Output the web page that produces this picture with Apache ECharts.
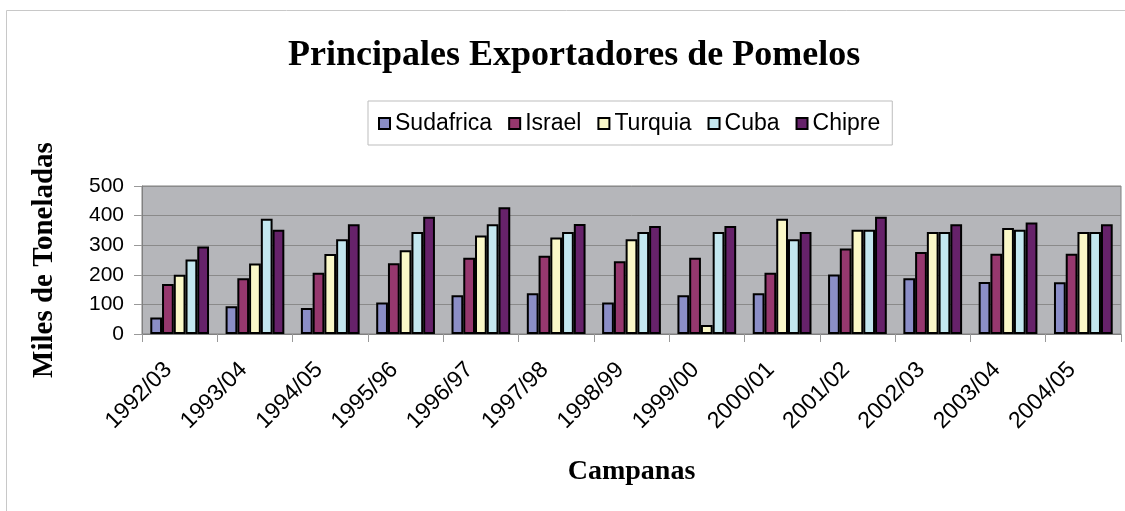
<!DOCTYPE html>
<html>
<head>
<meta charset="utf-8">
<script src="https://cdn.jsdelivr.net/npm/echarts@6/dist/echarts.min.js"></script>
<style>
html,body{margin:0;padding:0;background:#fff;}
#chart{width:1125px;height:511px;}
</style>
</head>
<body>
<div id="chart"></div>
<script>
const categories = ['1992/03','1993/04','1994/05','1995/96','1996/97','1997/98','1998/99','1999/00','2000/01','2001/02','2002/03','2003/04','2004/05'];
const sudafrica = [56, 94, 88, 106, 131, 138, 106, 131, 138, 201, 188, 176, 175];
const israel    = [169, 188, 207, 239, 258, 264, 246, 258, 207, 289, 277, 271, 271];
const turquia   = [200, 238, 270, 283, 333, 326, 320, 30, 389, 352, 345, 358, 345];
const cuba      = [252, 389, 320, 345, 371, 345, 345, 345, 320, 352, 345, 352, 345];
const chipre    = [296, 352, 371, 396, 428, 372, 365, 365, 345, 396, 371, 377, 371];
const yTicks = [0, 100, 200, 300, 400, 500];

const seriesDefs = [
  {name:'Sudafrica', data:sudafrica, color:'#8b8ec7'},
  {name:'Israel', data:israel, color:'#96386e'},
  {name:'Turquia', data:turquia, color:'#faf8c8'},
  {name:'Cuba', data:cuba, color:'#c3e7ef'},
  {name:'Chipre', data:chipre, color:'#66226a'}
];

const chart = echarts.init(document.getElementById('chart'), null, {renderer:'canvas'});
const option = {
  animation:false,
  backgroundColor:'#ffffff',
  graphic:[{
    type:'rect', silent:true, z:-10,
    shape:{x:6.5, y:10.5, width:1300, height:700},
    style:{fill:'none', stroke:'#c8c8c8', lineWidth:1}
  }],
  title:{
    text:'Principales Exportadores de Pomelos',
    left:288, top:38,
    padding:0,
    textStyle:{fontFamily:'Liberation Serif', fontWeight:'bold', fontSize:36, color:'#000'}
  },
  legend:{
    left:368, top:101,
    padding:[11,12,10,10],
    itemWidth:11, itemHeight:11, itemGap:16,
    borderColor:'#bdbdbd', borderWidth:1,
    icon:'rect',
    textStyle:{fontFamily:'Liberation Sans', fontSize:23, color:'#000'},
    data:seriesDefs.map(s=>s.name)
  },
  grid:{
    left:142, right:4, top:186, bottom:177,
    show:true, backgroundColor:'#b5b6ba', borderColor:'#808080', borderWidth:1
  },
  xAxis:{
    type:'category', data:categories,
    name:'Campanas', nameLocation:'middle', nameGap:124,
    nameTextStyle:{fontFamily:'Liberation Serif', fontWeight:'bold', fontSize:28, color:'#000'},
    axisLine:{lineStyle:{color:'#808080', width:1}},
    axisTick:{show:true, alignWithLabel:false, length:8, lineStyle:{color:'#999'}},
    axisLabel:{rotate:45, margin:21, padding:[0,16,0,0], fontFamily:'Liberation Sans', fontSize:23, color:'#000', interval:0}
  },
  yAxis:{
    type:'value', min:yTicks[0], max:yTicks[yTicks.length-1], interval:100,
    name:'Miles de Toneladas', nameLocation:'middle', nameGap:83,
    nameTextStyle:{fontFamily:'Liberation Serif', fontWeight:'bold', fontSize:29, color:'#000'},
    axisLine:{show:true, lineStyle:{color:'#808080'}},
    axisTick:{show:true, length:8, lineStyle:{color:'#999'}},
    axisLabel:{margin:18, fontFamily:'Liberation Sans', fontSize:21, color:'#000'},
    splitLine:{show:true, lineStyle:{color:'#8a8a8a', width:1}}
  },
  series:seriesDefs.map(s=>({
    name:s.name, type:'bar', data:s.data,
    barGap:'0%', barCategoryGap:'22%',
    itemStyle:{color:s.color, borderColor:'#000', borderWidth:2}
  }))
};
chart.setOption(option);
</script>
</body>
</html>
